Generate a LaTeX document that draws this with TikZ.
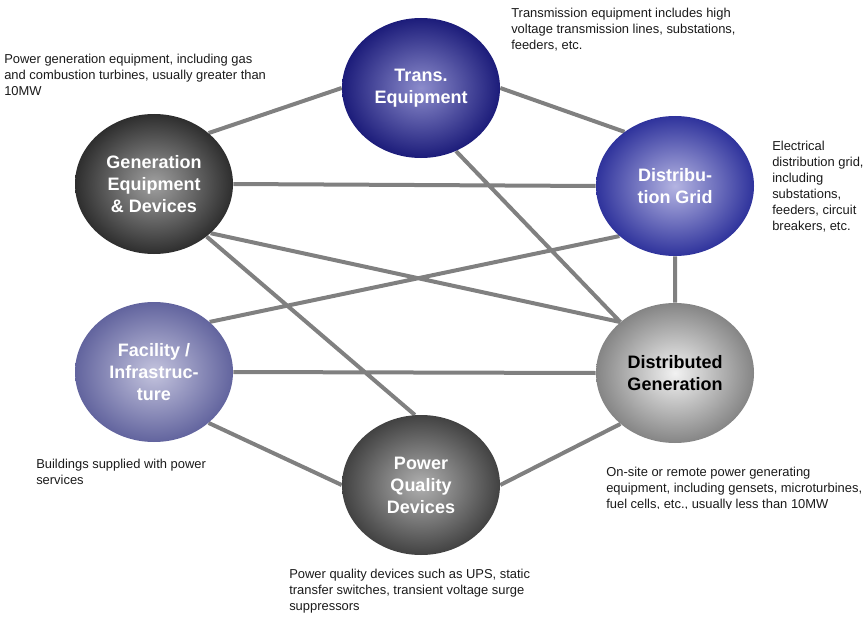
\documentclass[tikz,border=0pt]{standalone}
\usepackage{fontspec}
\setmainfont{Liberation Sans}
\usepackage{xcolor}
\usetikzlibrary{shapes, positioning, backgrounds}

\definecolor{linkgray}{HTML}{808080}
\definecolor{notetext}{HTML}{1A1A1A}

\tikzset{
	hub/.style={ellipse, minimum width=118.5pt, minimum height=105pt, inner sep=0pt, align=center,
		font=\fontsize{13.5}{16.5}\selectfont\bfseries, text=white},
	link/.style={draw=linkgray, line width=3pt},
	note/.style={anchor=north west, inner sep=0pt, align=left, text=notetext,
		font=\fontsize{9.7}{12}\selectfont}
}

\begin{document}
\begin{tikzpicture}[x=0.75pt, y=-0.75pt]
	\useasboundingbox (0,0) rectangle (864,617);
	
	\path
	(154,184) node[hub, inner color={rgb,255:red,160;green,160;blue,160}, outer color={rgb,255:red,46;green,46;blue,46}] (GEN) {Generation\\Equipment\\\& Devices}
	(421,88) node[hub, inner color={rgb,255:red,140;green,140;blue,204}, outer color={rgb,255:red,28;green,28;blue,122}] (TRANS) {Trans.\\Equipment}
	(675,186) node[hub, inner color={rgb,255:red,180;green,180;blue,226}, outer color={rgb,255:red,47;green,51;blue,156}] (GRID) {Distribu-\\tion Grid}
	(154,372) node[hub, inner color={rgb,255:red,196;green,196;blue,222}, outer color={rgb,255:red,98;green,100;blue,158}] (FAC) {Facility /\\Infrastruc-\\ture}
	(675,373) node[hub, text=black, inner color={rgb,255:red,242;green,242;blue,242}, outer color={rgb,255:red,133;green,133;blue,133}] (DG) {Distributed\\Generation}
	(421,485) node[hub, inner color={rgb,255:red,176;green,176;blue,176}, outer color={rgb,255:red,66;green,66;blue,66}] (PQ) {Power\\Quality\\Devices};
	
	\begin{pgfonlayer}{background}
		\draw[link]
		(GEN.43) -- (TRANS.west)
		(TRANS.east) -- (GRID.133)
		(GEN.east) -- (GRID.west)
		(TRANS.-61) -- (DG.137)
		(GEN.-41) -- (DG.137)
		(GEN.-45) -- (PQ.95)
		(FAC.42) -- (GRID.-138)
		(GRID.south) -- (DG.north)
		(FAC.east) -- (DG.west)
		(FAC.-43) -- (PQ.180)
		(PQ.east) -- (DG.-137);
	\end{pgfonlayer}
	
	\path
	(4,54) node[note] (GENnote) {Power generation equipment, including gas\\and combustion turbines, usually greater than\\10MW}
	(511,8) node[note] (TRANSnote) {Transmission equipment includes high\\voltage transmission lines, substations,\\feeders, etc.}
	(772,141) node[note] (GRIDnote) {Electrical\\distribution grid,\\including\\substations,\\feeders, circuit\\breakers, etc.}
	(36,459) node[note] (FACnote) {Buildings supplied with power\\services}
	(289,569) node[note] (PQnote) {Power quality devices such as UPS, static\\transfer switches, transient voltage surge\\suppressors};
	
	\begin{scope}
		\clip (590,460) rectangle (864,508);
		\path (606,467) node[note] (DGnote) {On-site or remote power generating\\equipment, including gensets, microturbines,\\fuel cells, etc., usually less than 10MW};
	\end{scope}
\end{tikzpicture}
\end{document}
